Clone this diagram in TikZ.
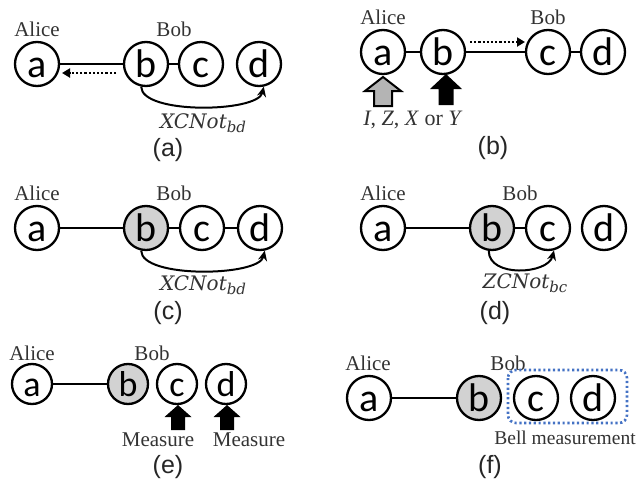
\documentclass[tikz,border=0pt]{standalone}
\usepackage{fontspec}
\setmainfont{Liberation Serif}
\newfontfamily\qubitfont{Carlito}
\newfontfamily\captionfont{Liberation Sans}
\newfontfamily\gatefont{DejaVu Serif}
\usetikzlibrary{arrows.meta}

\definecolor{entgrey}{HTML}{D2D2D2}
\definecolor{paulgrey}{HTML}{B4B4B4}
\definecolor{bellblue}{HTML}{4472C4}
\definecolor{labelgrey}{HTML}{333333}

\tikzset{
  qubit/.style={circle, draw, line width=2.3pt, minimum size=44pt, inner sep=0pt,
    fill=white, text height=26pt, text depth=0pt,
    font=\qubitfont\fontsize{40}{40}\selectfont},
  smallqubit/.style={qubit, minimum size=40pt, text height=24pt,
    font=\qubitfont\fontsize{36}{36}\selectfont},
  entangled/.style={fill=entgrey},
  link/.style={line width=2pt},
  dotarrow/.style={line width=2.4pt, dash pattern=on 2.2pt off 2pt,
    -{Triangle[length=8pt,width=9pt]}},
  gatearrow/.style={line width=2pt, -{Stealth[length=10pt,width=9pt]}},
  person/.style={text=labelgrey, font=\fontsize{21}{21}\selectfont},
  gatelabel/.style={text=labelgrey, font=\gatefont\itshape\fontsize{20}{20}\selectfont},
  caption/.style={text=black!85, font=\captionfont\fontsize{25}{25}\selectfont},
  hollowarrow/.style={draw, line width=2pt, fill=paulgrey, line join=miter},
  solidarrow/.style={fill=black},
  bellbox/.style={draw=bellblue, line width=2.6pt, dash pattern=on 2.2pt off 2.6pt,
    rounded corners=8pt}
}
\newcommand{\gatesub}[1]{\raisebox{-4pt}{\fontsize{15}{15}\selectfont #1}}

\begin{document}
\begin{tikzpicture}[x=1pt, y=-1pt]
\useasboundingbox (0,0) rectangle (641,485);

% ---------------- (a) ----------------
\node[person] (alA) at (37,29) {Alice};
\node[person] (boA) at (174,29) {Bob};
\node[qubit] (a1) at (37,64) {a};
\node[qubit] (b1) at (146,64) {b};
\node[qubit] (c1) at (201,64) {c};
\node[qubit] (d1) at (259,64) {d};
\draw[link] (a1) -- (b1);
\draw[link] (b1) -- (c1);
\coordinate (sa) at (116,73);
\coordinate (ea) at (62,73);
\draw[dotarrow] (sa) -- (ea);
\draw[gatearrow] (b1.258) .. controls +(0,28) and +(-6,26) .. (d1.282);
\node[gatelabel] (gA) at (203,123) {XCNot\gatesub{bd}};
\node[caption] (capA) at (168,150) {(a)};

% ---------------- (b) ----------------
\node[person] (alB) at (383,17) {Alice};
\node[person] (boB) at (548,17) {Bob};
\node[qubit] (a2) at (383,52) {a};
\node[qubit] (b2) at (443,52) {b};
\node[qubit] (c2) at (548,52) {c};
\node[qubit] (d2) at (603,52) {d};
\draw[link] (a2) -- (b2);
\draw[link] (b2) -- (c2);
\draw[link] (c2) -- (d2);
\coordinate (sb) at (470,42);
\coordinate (eb) at (525,42);
\draw[dotarrow] (sb) -- (eb);
% Pauli correction on Alice's qubit, measurement on b
\draw[hollowarrow] (383,77) -- (401,91) -- (392,91) -- (392,106) -- (374,106)
  -- (374,91) -- (365,91) -- cycle;
\fill[solidarrow] (446,74) -- (462,89) -- (453.5,89) -- (453.5,105) -- (438.5,105)
  -- (438.5,89) -- (430,89) -- cycle;
\node[text=labelgrey, font=\fontsize{22}{22}\selectfont] (pB) at (413,120)
  {\textit{I}, \textit{Z}, \textit{X} or \textit{Y}};
\node[caption] (capB) at (493,148) {(b)};

% ---------------- (c) ----------------
\node[person] (alC) at (37,193) {Alice};
\node[person] (boC) at (174,193) {Bob};
\node[qubit] (a3) at (37,228) {a};
\node[qubit, entangled] (b3) at (146,228) {b};
\node[qubit] (c3) at (202,228) {c};
\node[qubit] (d3) at (260,228) {d};
\draw[link] (a3) -- (b3);
\draw[link] (b3) -- (c3);
\draw[link] (c3) -- (d3);
\draw[gatearrow] (b3.258) .. controls +(0,28) and +(-6,26) .. (d3.282);
\node[gatelabel] (gC) at (203,285) {XCNot\gatesub{bd}};
\node[caption] (capC) at (168,313) {(c)};

% ---------------- (d) ----------------
\node[person] (alD) at (383,193) {Alice};
\node[person] (boD) at (520,193) {Bob};
\node[qubit] (a4) at (383,228) {a};
\node[qubit, entangled] (b4) at (492,228) {b};
\node[qubit] (c4) at (548,228) {c};
\node[qubit] (d4) at (604,228) {d};
\draw[link] (a4) -- (b4);
\draw[link] (b4) -- (c4);
\draw[gatearrow] (b4.262) .. controls +(0,27) and +(-6,24) .. (c4.285);
\node[gatelabel] (gD) at (525,283) {ZCNot\gatesub{bc}};
\node[caption] (capD) at (495,313) {(d)};

% ---------------- (e) ----------------
\node[person] (alE) at (32,353) {Alice};
\node[person] (boE) at (152,353) {Bob};
\node[smallqubit] (a5) at (32,384) {a};
\node[smallqubit, entangled] (b5) at (128,384) {b};
\node[smallqubit] (c5) at (177,384) {c};
\node[smallqubit] (d5) at (226,384) {d};
\draw[link] (a5) -- (b5);
\fill[solidarrow] (178,405) -- (191.5,417) -- (185,417) -- (185,430) -- (171,430)
  -- (171,417) -- (164.5,417) -- cycle;
\fill[solidarrow] (227,405) -- (240.5,417) -- (234,417) -- (234,430) -- (220,430)
  -- (220,417) -- (213.5,417) -- cycle;
\node[person] (mC) at (158,440) {Measure};
\node[person] (mD) at (249,440) {Measure};
\node[caption] (capE) at (168,467) {(e)};

% ---------------- (f) ----------------
\node[person] (alF) at (368,363) {Alice};
\node[person] (boF) at (508,363) {Bob};
\node[qubit] (a6) at (369,398) {a};
\node[qubit, entangled] (b6) at (479,398) {b};
\node[qubit] (c6) at (536,398) {c};
\node[qubit] (d6) at (593,398) {d};
\draw[link] (a6) -- (b6);
\draw[bellbox] (508,370) rectangle (627,423);
\node[person, font=\fontsize{19.5}{19.5}\selectfont] (bell) at (565,438) {Bell measurement};
\node[caption] (capF) at (490,467) {(f)};
\end{tikzpicture}
\end{document}
